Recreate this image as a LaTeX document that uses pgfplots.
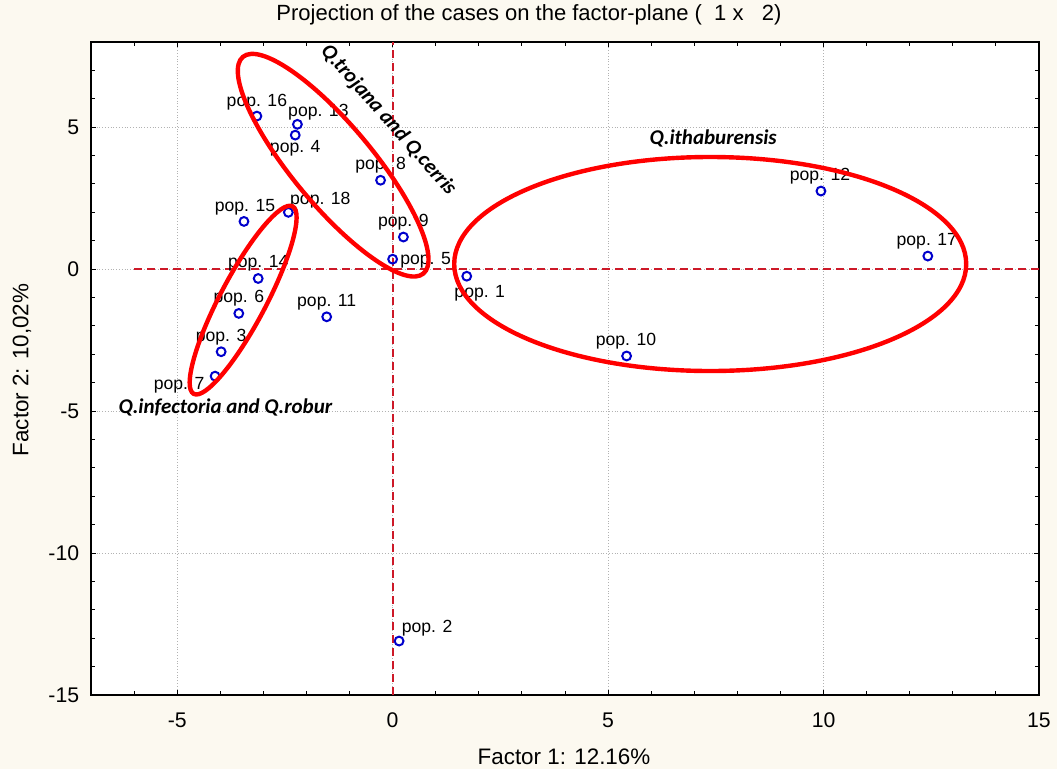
\documentclass[border=0pt]{standalone}
\usepackage{fontspec}
\setmainfont{Liberation Sans}
\newfontfamily\calib{Carlito}
\usepackage{pgfplots}
\usepackage{pgfplotstable}
\pgfplotsset{compat=1.18}
\definecolor{bgcol}{RGB}{252,249,240}
\definecolor{markblue}{RGB}{0,0,204}
\definecolor{dashred}{RGB}{205,25,40}
\definecolor{ellred}{RGB}{255,0,0}

\pgfplotstableread[col sep=comma]{
x,y,dx,dy,lab
-3.15,5.39,0,7.2,pop. 16
-2.21,5.10,10.5,6,pop. 13
-2.26,4.72,0,-6.8,pop. 4
-0.28,3.13,0,7.5,pop. 8
-2.42,2.00,16,6,pop. 18
-3.45,1.68,0.5,7.3,pop. 15
0.25,1.13,0,7.6,pop. 9
0.00,0.35,16.5,-0.5,pop. 5
-3.12,-0.33,0,7.5,pop. 14
-3.57,-1.56,0,7.5,pop. 6
-1.53,-1.68,0,7.5,pop. 11
-3.98,-2.91,0,7.5,pop. 3
-4.12,-3.77,-18,-4.5,pop. 7
1.72,-0.25,6.5,-8.5,pop. 1
9.94,2.75,-0.5,7.2,pop. 12
12.42,0.46,-0.5,7.2,pop. 17
5.43,-3.06,-0.3,7.6,pop. 10
0.15,-13.10,14,6.5,pop. 2
}\pops

\begin{document}
\begin{tikzpicture}
\useasboundingbox (0,0) rectangle (528.5pt,384.5pt);
\fill[bgcol] (0,0) rectangle (528.5pt,384.5pt);
\begin{axis}[
  at={(45.5pt,37pt)}, anchor=south west,
  scale only axis, width=474pt, height=326.5pt,
  xmin=-7, xmax=15, ymin=-15, ymax=8,
  xtick={-5,0,5,10,15}, ytick={-15,-10,-5,0,5},
  minor xtick={-7,-6,...,15}, minor ytick={-15,-14,...,8},
  grid=major,
  major grid style={densely dotted, black!30, line width=0.5pt},
  minor grid style={draw=none},
  tick style={black, line width=0.5pt},
  major tick length=2.6pt, minor tick length=2pt,
  axis line style={black, line width=0.7pt},
  tick label style={font=\fontsize{10.6}{12}\selectfont},
  /pgf/number format/assume math mode=true,
  xticklabel style={yshift=-5.2pt},
  yticklabel style={xshift=-2.4pt},
  axis background/.style={fill=white},
  clip=false,
]
\addplot[dashred, line width=1pt, dash pattern=on 4pt off 2.5pt, forget plot] coordinates {(-6,0) (15,0)};
\addplot[dashred, line width=1pt, dash pattern=on 4pt off 2.5pt, forget plot] coordinates {(0,-15) (0,8)};
\addplot[only marks, mark=o, mark size=2.2pt, markblue, mark options={line width=1pt},
  point meta=explicit symbolic,
  visualization depends on={\thisrow{dx}\as\mydx},
  visualization depends on={\thisrow{dy}\as\mydy},
  nodes near coords,
  every node near coord/.style={anchor=center, text=black, inner sep=0pt,
     xshift=\mydx pt, yshift=\mydy pt, font=\fontsize{8.8}{10}\selectfont},
] table[x=x, y=y, meta=lab] {\pops};
\coordinate (e1) at (axis cs:-1.38,3.66);
\coordinate (e2) at (axis cs:-3.47,-1.09);
\coordinate (e3) at (axis cs:7.37,0.18);
\node[rotate=-48.5, font=\calib\bfseries\itshape\fontsize{10.5}{12}\selectfont] at (axis cs:-0.10,5.25) {Q.trojana and Q.cerris};
\node[font=\calib\bfseries\itshape\fontsize{10.5}{12}\selectfont] at (axis cs:7.44,4.61) {Q.ithaburensis};
\node[font=\calib\bfseries\itshape\fontsize{10.5}{12}\selectfont] at (axis cs:-3.88,-4.89) {Q.infectoria and Q.robur};
\end{axis}
\draw[ellred, line width=2.2pt, rotate around={-50.2:(e1)}] (e1) ellipse [x radius=70.5pt, y radius=20pt];
\draw[ellred, line width=2.2pt, rotate around={62.2:(e2)}] (e2) ellipse [x radius=53pt, y radius=11.5pt];
\draw[ellred, line width=2.2pt] (e3) ellipse [x radius=128pt, y radius=53.5pt];
\node[anchor=base, font=\fontsize{11}{13}\selectfont] at (264.5pt,374.2pt) {Projection of the cases on the factor-plane (\ \ 1 x \ \ 2)};
\node[anchor=base, font=\fontsize{11.2}{13}\selectfont] at (282pt,2pt) {Factor 1: 12.16\%};
\node[anchor=base, rotate=90, font=\fontsize{11.2}{13}\selectfont] at (14.2pt,199.5pt) {Factor 2: 10,02\%};
\end{tikzpicture}
\end{document}
